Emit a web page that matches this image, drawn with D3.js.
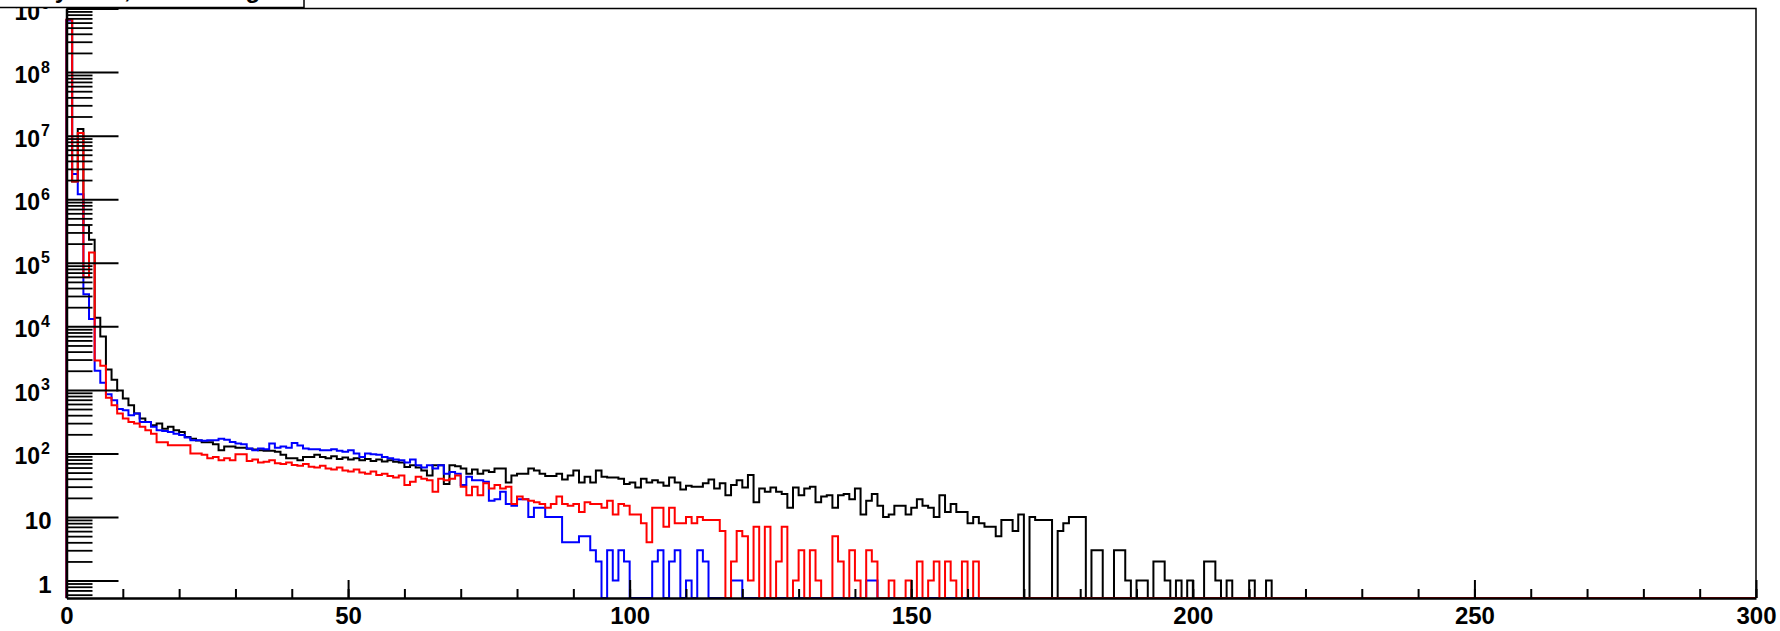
<!DOCTYPE html>
<html>
<head>
<meta charset="utf-8">
<script src="https://cdn.jsdelivr.net/npm/d3@7"></script>
<style>
  html, body { margin: 0; padding: 0; background: #fff; }
  svg { display: block; }
  text { font-family: "Liberation Sans", Arial, Helvetica, sans-serif; font-weight: bold; fill: #000; }
  .xaxis text { font-size: 24px; }
</style>
</head>
<body>
<div id="chart"></div>
<script>
// histogram: 300 bins of width 1 on [0, 300); bins past the end of a list are empty
const nBins = 300;
const xMajorTicks = [0, 50, 100, 150, 200, 250, 300];
const xMinorTicks = d3.range(0, 301, 10);
const yDecades = [1, 10, 1e2, 1e3, 1e4, 1e5, 1e6, 1e7, 1e8, 1e9];
const titleText = "Delay time, Pulse Height";

const blackCounts = [
  6.6e8, 1.9e6, 1.27e7, 3.9e5, 2.3e5, 13600, 6900, 2100, 1450, 980,
  730, 575, 425, 355, 313, 277, 295, 245, 263, 231,
  218, 182, 170, 160, 150, 150, 140, 112, 129, 129,
  123, 123, 119, 115, 112, 110, 110, 106, 95, 84,
  84, 78, 88, 88, 95, 88, 84, 90, 82, 86,
  80, 84, 78, 82, 76, 80, 75, 78, 74, 72,
  61, 65, 60, 54, 45, 65, 65, 33, 65, 63,
  58, 48, 56, 48, 54, 51, 58, 58, 35, 45,
  48, 48, 58, 54, 48, 44, 44, 48, 39, 45,
  54, 35, 43, 35, 54, 43, 42, 42, 40, 33,
  35, 29, 40, 35, 38, 35, 31, 42, 35, 27,
  31, 30, 30, 34, 39, 28, 34, 22, 32, 38,
  29, 46, 17, 28, 25, 29, 25, 23, 14, 29,
  22, 28, 30, 17, 21, 22, 14, 22, 23, 19,
  28, 11, 18, 23, 15, 10, 11, 15, 15, 11,
  14, 19, 15, 14, 10, 22, 12, 16, 12, 12,
  8, 10, 8, 7, 7, 5, 9, 9, 6, 11,
  0, 10, 9, 9, 9, 0, 6, 8, 10, 10,
  10, 0, 3, 3, 0, 0, 3, 3, 1, 0,
  1, 1, 0, 2, 2, 1, 0, 1, 0, 1,
  0, 0, 2, 2, 1, 0, 1, 0, 0, 0,
  1, 0, 0, 1
];

const blueCounts = [
  6.5e8, 2.5e6, 1.2e6, 32000, 13000, 2000, 1300, 850, 690, 500,
  480, 400, 425, 313, 313, 263, 231, 226, 218, 205,
  195, 178, 162, 162, 158, 162, 162, 171, 165, 151,
  143, 140, 120, 112, 120, 116, 143, 123, 129, 123,
  146, 133, 120, 116, 116, 112, 112, 116, 110, 106,
  112, 100, 88, 100, 97, 95, 88, 84, 80, 78,
  72, 80, 65, 60, 65, 58, 65, 48, 51, 48,
  32, 43, 38, 38, 36, 18, 19, 25, 16, 15,
  19, 19, 10, 14, 14, 10, 10, 10, 4, 4,
  4, 5, 5, 3, 2, 0, 3, 1, 3, 2,
  0, 0, 0, 0, 2, 3, 0, 2, 3, 0,
  1, 0, 3, 2, 0, 0, 0, 0, 1, 1,
  0, 0, 0, 0, 0, 0, 0, 0, 0, 0,
  0, 0, 0, 0, 0, 0, 0, 0, 0, 0,
  0, 0, 1, 1
];

const redCounts = [
  6.7e8, 1.9e6, 1.1e7, 59000, 145000, 2900, 2400, 750, 575, 425,
  355, 313, 295, 263, 231, 205, 150, 150, 134, 134,
  134, 134, 100, 100, 95, 84, 88, 78, 84, 78,
  97, 97, 76, 80, 72, 74, 78, 70, 68, 72,
  66, 64, 68, 62, 60, 64, 58, 56, 60, 54,
  52, 56, 50, 48, 52, 46, 48, 44, 42, 45,
  32, 36, 43, 40, 38, 25, 40, 38, 40, 45,
  30, 22, 30, 22, 34, 28, 32, 28, 30, 16,
  21, 19, 18, 17, 16, 14, 16, 21, 16, 15,
  16, 12, 17, 16, 16, 14, 18, 11, 16, 15,
  11, 11, 8, 4, 14, 14, 7, 14, 8, 8,
  10, 8, 10, 9, 9, 9, 6, 0, 2, 6,
  5, 1, 7, 0, 7, 0, 2, 7, 0, 1,
  3, 0, 3, 1, 0, 0, 5, 2, 0, 3,
  1, 0, 3, 2, 0, 0, 1, 0, 0, 1,
  0, 2, 0, 1, 2, 0, 2, 1, 0, 2,
  0, 2
];

const series = [
  { counts: blackCounts, color: "#000000" },
  { counts: blueCounts, color: "#0000ff" },
  { counts: redCounts, color: "#ff0000" }
];

// canvas and frame
const W = 1780;
const H = 631;
const fLeft = 66.5;
const fRight = 1756;
const fTop = 8.5;
const fBottom = 598;
const yMin = 0.532;
const yMax = 1e9;

const svg = d3
  .select("#chart")
  .append("svg")
  .attr("width", W)
  .attr("height", H);

const x = d3.scaleLinear().domain([0, nBins]).range([fLeft, fRight]);
const y = d3.scaleLog().domain([yMin, yMax]).range([fBottom, fTop]).clamp(true);

// frame (top + right)
svg
  .append("path")
  .attr("d", `M${fLeft},${fTop}H${fRight}V${fBottom}`)
  .attr("fill", "none")
  .attr("stroke", "#000")
  .attr("stroke-width", 1.5);

// histograms, empty bins sit on the bottom of the frame
const stepLine = d3
  .line()
  .x((d) => x(d[0]))
  .y((d) => y(d[1] > 0 ? d[1] : yMin))
  .curve(d3.curveStepAfter);

series.forEach((s) => {
  const pts = [[0, 0]];
  for (let i = 0; i < nBins; i++) pts.push([i, s.counts[i] || 0]);
  pts.push([nBins, 0]);
  svg
    .append("path")
    .attr("d", stepLine(pts))
    .attr("fill", "none")
    .attr("stroke", s.color)
    .attr("stroke-width", 2);
});

// x axis: secondary ticks every 10, primary every 50
svg
  .append("g")
  .attr("transform", `translate(0,${fBottom})`)
  .call(d3.axisBottom(x).tickValues(xMinorTicks).tickSizeInner(-9).tickSizeOuter(0).tickFormat(""))
  .call((g) => g.selectAll("line").attr("stroke-width", 2))
  .call((g) => g.select(".domain").attr("stroke-width", 2.5));

svg
  .append("g")
  .attr("class", "xaxis")
  .attr("transform", `translate(0,${fBottom})`)
  .call(d3.axisBottom(x).tickValues(xMajorTicks).tickSizeInner(-18).tickSizeOuter(0).tickPadding(9).tickFormat(d3.format("d")))
  .attr("font-family", null)
  .attr("font-size", null)
  .call((g) => g.selectAll("line").attr("stroke-width", 2))
  .call((g) => g.select(".domain").remove());

// y axis: log, minor ticks at 2..9 of each decade
const minorY = [];
[0.1, 1, 10, 1e2, 1e3, 1e4, 1e5, 1e6, 1e7, 1e8].forEach((d) => {
  for (let k = 2; k <= 9; k++) {
    const v = d * k;
    if (v >= yMin && v <= yMax) minorY.push(v);
  }
});

svg
  .append("g")
  .attr("transform", `translate(${fLeft},0)`)
  .call(d3.axisLeft(y).tickValues(minorY).tickSizeInner(-26).tickSizeOuter(0).tickFormat(""))
  .call((g) => g.selectAll("line").attr("stroke-width", 1.8))
  .call((g) => g.select(".domain").attr("stroke-width", 2.5));

const yMajor = svg
  .append("g")
  .attr("transform", `translate(${fLeft},0)`)
  .call(d3.axisLeft(y).tickValues(yDecades).tickSizeInner(-52).tickSizeOuter(0).tickFormat(""))
  .attr("font-family", null)
  .attr("font-size", null)
  .call((g) => g.selectAll("line").attr("stroke-width", 2))
  .call((g) => g.select(".domain").remove());

// ROOT style labels: 1, 10, then 10^n
yMajor.selectAll(".tick").each(function (d) {
  const n = Math.round(Math.log10(d));
  const t = d3.select(this).append("text").attr("text-anchor", "end");
  if (n < 2) {
    t.attr("x", -15).attr("y", 11.5).style("font-size", "24px").text(n === 0 ? "1" : "10");
  } else {
    t.attr("x", -16.5).attr("y", 10.5);
    t.append("tspan").style("font-size", "23px").text("10");
    t.append("tspan").attr("dx", 1).attr("dy", -10.5).style("font-size", "16px").text(n);
  }
});

// title box, mostly above the top of the canvas
svg
  .append("rect")
  .attr("x", -2)
  .attr("y", -40)
  .attr("width", 306)
  .attr("height", 47.5)
  .attr("fill", "#fff")
  .attr("stroke", "#000")
  .attr("stroke-width", 1.5);

svg
  .append("text")
  .attr("x", 4)
  .attr("y", -2)
  .style("font-size", "24px")
  .text(titleText);
</script>
</body>
</html>
